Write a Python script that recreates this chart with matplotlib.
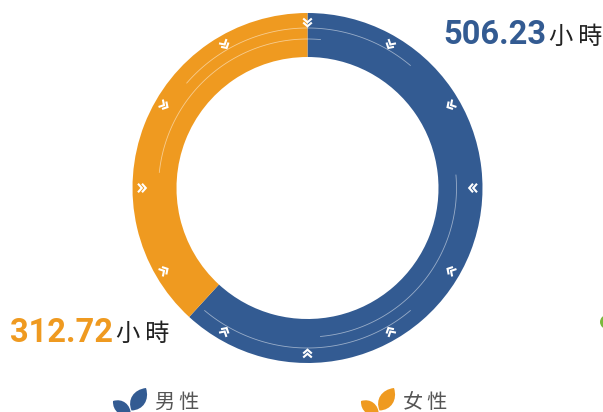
import numpy as np
import matplotlib
matplotlib.use("Agg")
import matplotlib.pyplot as plt
from matplotlib.patches import Circle, PathPatch
from matplotlib.path import Path

plt.rcParams["font.family"] = ["Noto Sans CJK TC", "DejaVu Sans"]

categories = ["男性", "女性"]
hours = [506.23, 312.72]
colors = ["#335b92", "#ef9a20"]
unit = "小時"

W, H = 603, 412
CX, CY = 307.5, H - 188
R_OUT, R_IN = 175, 131

fig = plt.figure(figsize=(W / 100, H / 100), dpi=100)
ax = fig.add_axes([0, 0, 1, 1])

ax.pie(
    hours,
    colors=colors,
    center=(CX, CY),
    radius=R_OUT,
    startangle=90,
    counterclock=False,
    wedgeprops=dict(width=R_OUT - R_IN, linewidth=0),
)
ax.set_xlim(0, W)
ax.set_ylim(0, H)
ax.set_aspect("equal")
ax.axis("off")


def polar(r, deg):
    # degrees clockwise from 12 o'clock
    a = np.radians(deg)
    return CX + r * np.sin(a), CY + r * np.cos(a)


# thin decorative arcs
for r, a0, a1 in [(160, -49, 40), (160, 140, 220), (149, -84, 5), (149, 85, 175)]:
    x, y = polar(r, np.linspace(a0, a1, 120))
    ax.plot(x, y, color="white", alpha=0.5, lw=0.6, zorder=3)

# double chevrons pointing at the centre
for deg in range(0, 360, 30):
    for r in (166.5, 162.5):
        px, py = polar(r, deg)
        a = np.radians(deg)
        ux, uy = -np.sin(a), -np.cos(a)  # inward
        vx, vy = uy, -ux
        xs = [px - 3 * ux + 4.3 * vx, px + ux * 0.8, px - 3 * ux - 4.3 * vx]
        ys = [py - 3 * uy + 4.3 * vy, py + uy * 0.8, py - 3 * uy - 4.3 * vy]
        ax.plot(xs, ys, color="white", lw=1.5, solid_joinstyle="miter",
                solid_capstyle="butt", zorder=4)

# big numbers
ax.text(443, H - 44, "%.2f" % hours[0], color=colors[0], family="Roboto",
        weight="bold", fontsize=23.5, ha="left", va="baseline")
ax.text(10, H - 342, "%.2f" % hours[1], color=colors[1], family="Roboto",
        weight="bold", fontsize=23.5, ha="left", va="baseline")
ax.text(549, H - 44, unit[0] + "\u2009" + unit[1], color="#222222", fontsize=17.5, ha="left", va="baseline")
ax.text(116, H - 341, unit[0] + "\u2009" + unit[1], color="#222222", fontsize=17.5, ha="left", va="baseline")


# legend leaves
def leaf(x0, y0, x1, y1, bulge, color):
    dx, dy = x1 - x0, y1 - y0
    nx, ny = -dy, dx
    verts = [
        (x0, y0),
        (x0 + 0.25 * dx + bulge * nx, y0 + 0.25 * dy + bulge * ny),
        (x0 + 0.7 * dx + bulge * nx, y0 + 0.7 * dy + bulge * ny),
        (x1, y1),
        (x0 + 0.7 * dx - bulge * nx, y0 + 0.7 * dy - bulge * ny),
        (x0 + 0.25 * dx - bulge * nx, y0 + 0.25 * dy - bulge * ny),
        (x0, y0),
    ]
    codes = [Path.MOVETO] + [Path.CURVE4] * 6
    ax.add_patch(PathPatch(Path(verts, codes), facecolor=color, edgecolor="none", zorder=2))


for off, color, name, tx in [(0, colors[0], categories[0], 155), (248, colors[1], categories[1], 403)]:
    leaf(131.5 + off, H - 410.5, 146 + off, H - 388, 0.36, color)
    leaf(113 + off, H - 401, 131 + off, H - 415, 0.36, color)
    ax.text(tx, H - 408, name[0] + "\u2009" + name[1], color="#555555", fontsize=14.5,
            weight="light", ha="left", va="baseline")

# neighbouring chart clipped by the right edge
ax.add_patch(Circle((607, H - 322), 7, facecolor="#7ab93c", edgecolor="none"))

fig.savefig("out.png", dpi=100)
